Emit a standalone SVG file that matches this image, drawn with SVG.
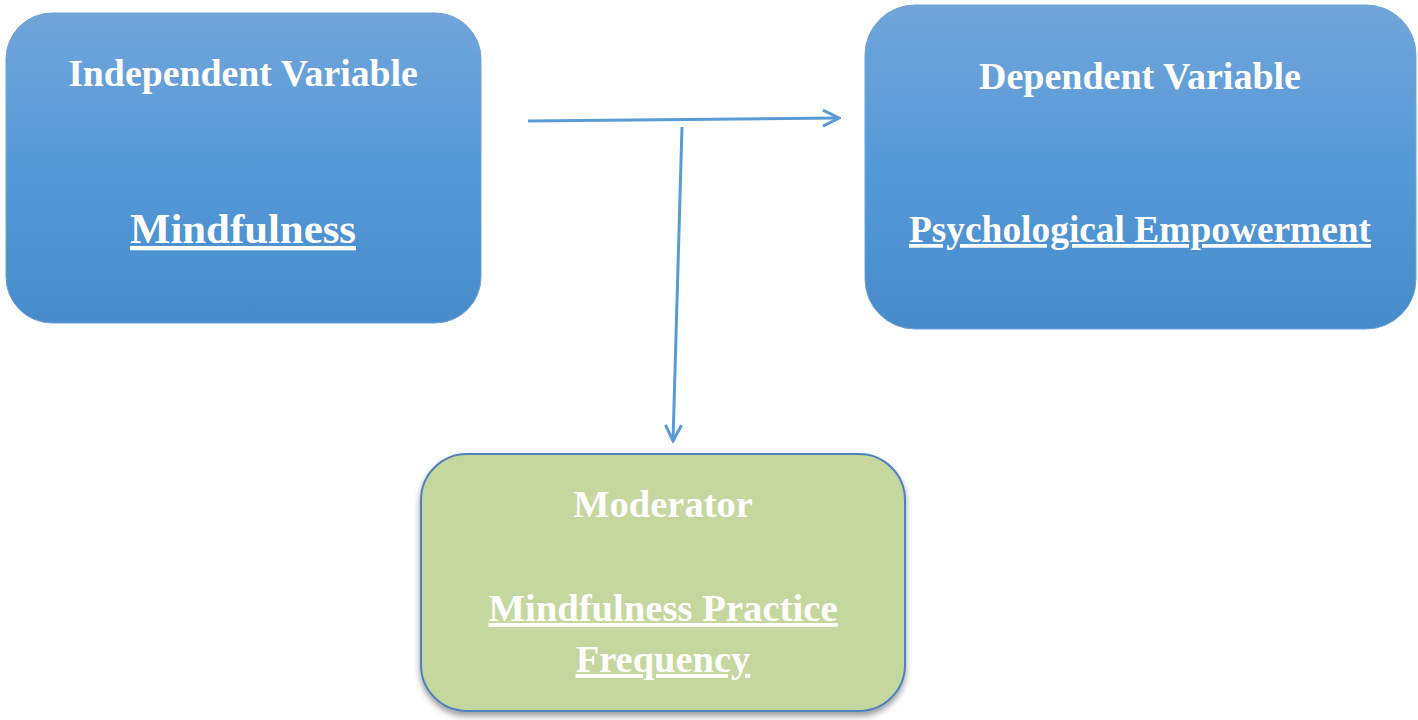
<svg xmlns="http://www.w3.org/2000/svg" width="1418" height="720" viewBox="0 0 1418 720">
<style>
.t{font-family:"Liberation Serif","Times New Roman",serif;font-weight:bold;fill:#ffffff;text-anchor:middle}
.u{text-decoration:underline}
.conn{stroke:#5b9bd5;stroke-width:3;fill:none}
</style>
<defs>
<linearGradient id="blue" x1="0" y1="0" x2="0" y2="1">
<stop offset="0" stop-color="#71a5da"/>
<stop offset="0.5" stop-color="#5599d8"/>
<stop offset="1" stop-color="#468bca"/>
</linearGradient>
<filter id="sh" x="-5%" y="-5%" width="110%" height="115%">
<feGaussianBlur in="SourceAlpha" stdDeviation="3"/>
<feOffset dx="0" dy="4"/>
<feComponentTransfer><feFuncA type="linear" slope="0.4"/></feComponentTransfer>
<feMerge><feMergeNode/><feMergeNode in="SourceGraphic"/></feMerge>
</filter>
<marker id="arr" viewBox="0 0 20 20" refX="18" refY="10" markerWidth="20" markerHeight="20" markerUnits="userSpaceOnUse" orient="auto">
<path d="M2,2 L18,10 L2,18" fill="none" stroke="#5b9bd5" stroke-width="3"/>
</marker>
</defs>
<rect width="1418" height="720" fill="#ffffff"/>
<g id="independent">
<rect x="6" y="13" width="475" height="310" rx="46" fill="url(#blue)" stroke="#6fa3d8" stroke-width="1"/>
<text class="t" x="243" y="86" font-size="37.8">Independent Variable</text>
<text class="t u" x="243" y="243" font-size="42.8">Mindfulness</text>
</g>
<g id="dependent">
<rect x="865" y="5" width="551" height="324" rx="50" fill="url(#blue)" stroke="#6fa3d8" stroke-width="1"/>
<text class="t" x="1140" y="89" font-size="38">Dependent Variable</text>
<text class="t u" x="1140" y="242" font-size="37.4">Psychological Empowerment</text>
</g>
<g id="moderator">
<rect x="421" y="454" width="484" height="257" rx="46" fill="#c4d79e" stroke="#4f81bd" stroke-width="2" filter="url(#sh)"/>
<text class="t" x="663" y="517" font-size="38.5">Moderator</text>
<text class="t u" x="663" y="621" font-size="38.7">Mindfulness Practice</text>
<text class="t u" x="663" y="672" font-size="38.5">Frequency</text>
</g>
<g id="connectors">
<line class="conn" x1="528" y1="121" x2="839" y2="118" marker-end="url(#arr)"/>
<line class="conn" x1="682" y1="127" x2="673" y2="441" marker-end="url(#arr)"/>
</g>
</svg>
